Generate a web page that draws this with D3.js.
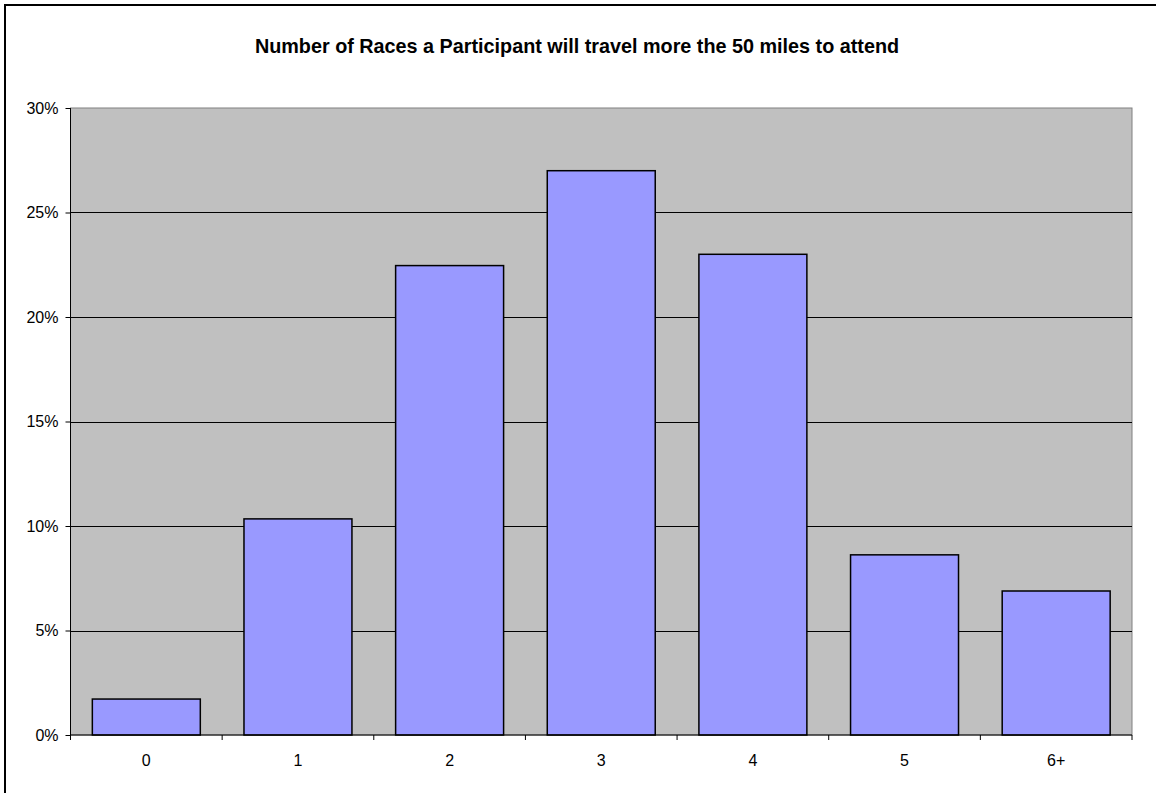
<!DOCTYPE html>
<html><head><meta charset="utf-8">
<script src="https://cdn.jsdelivr.net/npm/d3@7/dist/d3.min.js"></script>
<style>html,body{margin:0;padding:0;background:#fff;overflow:hidden}</style>
</head><body>
<svg id="c" width="1156" height="793"></svg>
<script>
const title = "Number of Races a Participant will travel more the 50 miles to attend";
const categories = ["0","1","2","3","4","5","6+"];
const values = [0.0172, 0.1034, 0.2246, 0.2700, 0.2300, 0.0862, 0.0689];
const yTicks = [0, 0.05, 0.10, 0.15, 0.20, 0.25, 0.30];

const svg = d3.select("#c");
const font = "'Liberation Sans', Arial, sans-serif";
const L = 70.5, R = 1132, T = 108, B = 735;

svg.append("rect").attr("x",5).attr("y",5).attr("width",1300).attr("height",1000)
  .attr("fill","#fff").attr("stroke","#000").attr("stroke-width",2);

const x = d3.scaleBand().domain(categories).range([L,R]).paddingInner(0.288).paddingOuter(0.144);
const xb = d3.scaleBand().domain(categories).range([L,R]);
const y = d3.scaleLinear().domain([0,0.30]).range([B,T]);

svg.append("rect").attr("x",L).attr("y",T).attr("width",R-L).attr("height",B-T)
  .attr("fill","#C0C0C0").attr("stroke","#808080").attr("stroke-width",1);

svg.append("g").selectAll("line").data(yTicks.filter(d=>d>0 && d<0.30)).join("line")
  .attr("x1",L).attr("x2",R).attr("y1",d=>Math.round(y(d))+0.5).attr("y2",d=>Math.round(y(d))+0.5)
  .attr("stroke","#000").attr("stroke-width",1);

svg.append("g").selectAll("rect").data(values).join("rect")
  .attr("x",(d,i)=>x(categories[i])).attr("width",x.bandwidth())
  .attr("y",d=>y(d)).attr("height",d=>B-y(d))
  .attr("fill","#9999FF").attr("stroke","#000").attr("stroke-width",1.5);

const yAxis = d3.axisLeft(y).tickValues(yTicks).tickFormat(d3.format(".0%")).tickSize(5).tickPadding(7);
const gy = svg.append("g").attr("transform",`translate(${L},0)`).call(yAxis);
gy.selectAll("text").attr("font-family",font).attr("font-size",16).attr("fill","#000");
gy.selectAll("line").attr("stroke","#000");
gy.select(".domain").attr("stroke","#000").attr("d",`M0,${T}V${B}`);

const gx = svg.append("g").attr("transform",`translate(0,${B})`);
gx.append("line").attr("x1",L).attr("x2",R).attr("y1",0).attr("y2",0).attr("stroke","#000").attr("stroke-width",1.2);
const bounds = categories.map(c=>xb(c)).concat([R]);
gx.selectAll("line.t").data(bounds).join("line").attr("class","t")
  .attr("x1",d=>d).attr("x2",d=>d).attr("y1",0).attr("y2",5).attr("stroke","#000");
gx.selectAll("text").data(categories).join("text")
  .attr("x",d=>xb(d)+xb.bandwidth()/2).attr("y",30.5)
  .attr("text-anchor","middle").attr("font-family",font).attr("font-size",16).text(d=>d);

svg.append("text").attr("x",577).attr("y",53).attr("text-anchor","middle")
  .attr("font-family",font).attr("font-size",19.8).attr("font-weight","bold").text(title);
</script>
</body></html>
